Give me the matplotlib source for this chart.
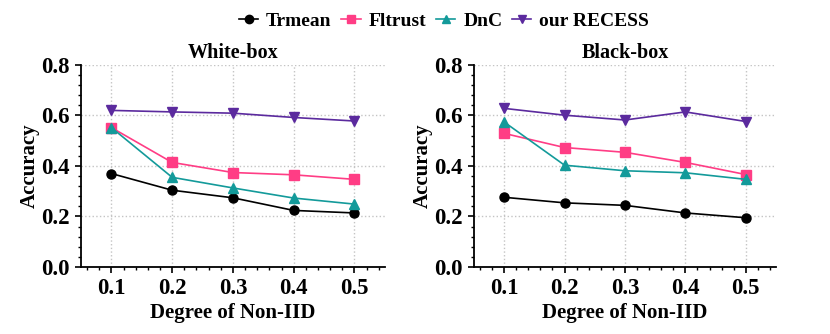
import matplotlib
matplotlib.use("Agg")
import matplotlib.pyplot as plt
from matplotlib.ticker import MultipleLocator
from matplotlib.lines import Line2D

plt.rcParams["font.family"] = ["Liberation Serif", "DejaVu Serif"]
plt.rcParams["font.weight"] = "bold"

non_iid = [0.1, 0.2, 0.3, 0.4, 0.5]
methods = ["Trmean", "Fltrust", "DnC", "our RECESS"]
ytick_vals = [0.0, 0.2, 0.4, 0.6, 0.8]

white_trmean = [0.370, 0.304, 0.274, 0.224, 0.214]
white_fltrust = [0.552, 0.414, 0.374, 0.365, 0.347]
white_dnc = [0.552, 0.355, 0.313, 0.273, 0.249]
white_recess = [0.620, 0.614, 0.609, 0.592, 0.578]

black_trmean = [0.276, 0.254, 0.244, 0.214, 0.195]
black_fltrust = [0.529, 0.473, 0.454, 0.414, 0.366]
black_dnc = [0.574, 0.403, 0.381, 0.373, 0.347]
black_recess = [0.628, 0.601, 0.582, 0.614, 0.576]

colors = ["#000000", "#ff3d85", "#139a9a", "#5b2a9e"]
markers = ["o", "s", "^", "v"]

fig = plt.figure(figsize=(8.3, 3.34), dpi=100)
ax_w = fig.add_axes([0.0976, 0.2006, 0.366, 0.605])
ax_b = fig.add_axes([0.571, 0.2006, 0.364, 0.605])

panels = [
    (ax_w, "White-box", [white_trmean, white_fltrust, white_dnc, white_recess]),
    (ax_b, "Black-box", [black_trmean, black_fltrust, black_dnc, black_recess]),
]

for ax, title, series in panels:
    for vals, c, m in zip(series, colors, markers):
        ax.plot(non_iid, vals, color=c, marker=m, markersize=6.5, linewidth=1.2, zorder=3)
    ax.set_xlim(0.05, 0.55)
    ax.set_ylim(0.0, 0.8)
    ax.xaxis.set_minor_locator(MultipleLocator(0.02))
    ax.yaxis.set_minor_locator(MultipleLocator(0.04))
    ax.set_xticks(non_iid)
    ax.set_xticklabels([f"{v:.1f}" for v in non_iid])
    ax.set_yticks(ytick_vals)
    ax.set_yticklabels([f"{v:.1f}" for v in ytick_vals])
    ax.grid(True, which="major", color="#c4c4c4", linestyle=":", linewidth=1.0)
    ax.spines["top"].set_visible(False)
    ax.spines["right"].set_visible(False)
    ax.spines["left"].set_linewidth(1.3)
    ax.spines["bottom"].set_linewidth(1.3)
    ax.tick_params(which="major", length=4, width=1.2, labelsize=16.5, direction="out", pad=4)
    ax.tick_params(which="minor", length=2.5, width=1.0, direction="out")
    ax.set_xlabel("Degree of Non-IID", fontsize=15, fontweight="bold", labelpad=3)
    ax.set_ylabel("Accuracy", fontsize=15, fontweight="bold", labelpad=1)
    ax.set_title(title, fontsize=14.5, fontweight="bold", pad=5)

handles = [Line2D([0], [0], color=c, marker=m, markersize=6, linewidth=1.2)
           for c, m in zip(colors, markers)]
fig.legend(handles, methods, loc="upper center", bbox_to_anchor=(0.535, 1.015), ncol=4,
           frameon=False, handlelength=1.0, handletextpad=0.4, columnspacing=0.5,
           prop={"weight": "bold", "size": 14})

fig.savefig("out.png", dpi=100)
